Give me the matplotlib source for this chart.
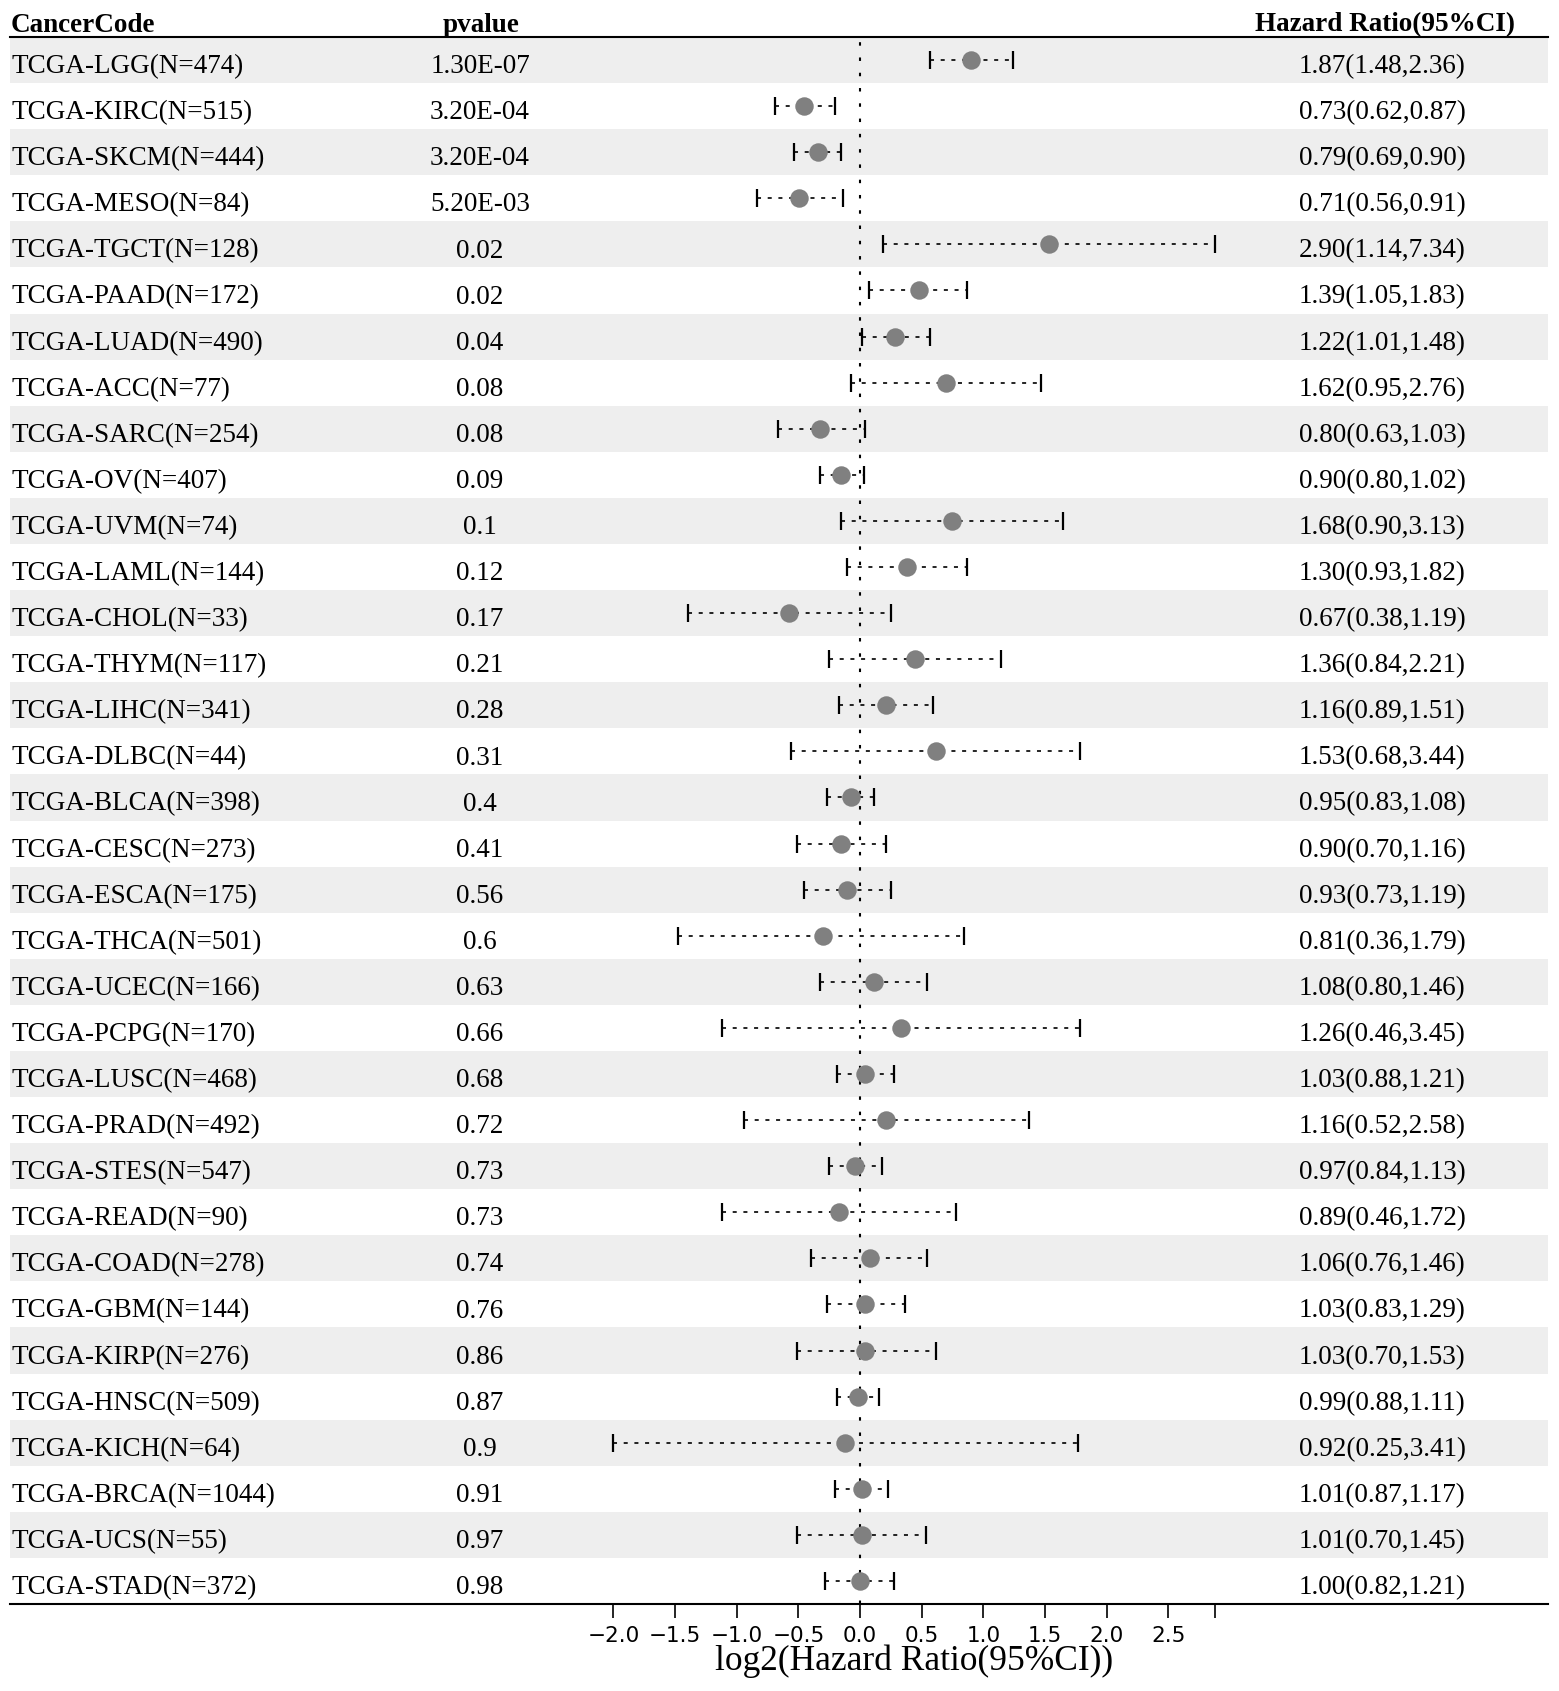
import numpy as np
import matplotlib
matplotlib.use("Agg")
import matplotlib.pyplot as plt

plt.rcParams['font.family'] = ['Liberation Serif', 'DejaVu Serif']
plt.rcParams['lines.scale_dashes'] = False

codes = ["TCGA-LGG", "TCGA-KIRC", "TCGA-SKCM", "TCGA-MESO", "TCGA-TGCT", "TCGA-PAAD",
         "TCGA-LUAD", "TCGA-ACC", "TCGA-SARC", "TCGA-OV", "TCGA-UVM", "TCGA-LAML",
         "TCGA-CHOL", "TCGA-THYM", "TCGA-LIHC", "TCGA-DLBC", "TCGA-BLCA", "TCGA-CESC",
         "TCGA-ESCA", "TCGA-THCA", "TCGA-UCEC", "TCGA-PCPG", "TCGA-LUSC", "TCGA-PRAD",
         "TCGA-STES", "TCGA-READ", "TCGA-COAD", "TCGA-GBM", "TCGA-KIRP", "TCGA-HNSC",
         "TCGA-KICH", "TCGA-BRCA", "TCGA-UCS", "TCGA-STAD"]
n_samples = [474, 515, 444, 84, 128, 172, 490, 77, 254, 407, 74, 144, 33, 117, 341, 44,
             398, 273, 175, 501, 166, 170, 468, 492, 547, 90, 278, 144, 276, 509, 64,
             1044, 55, 372]
pvalues = ["1.30E-07", "3.20E-04", "3.20E-04", "5.20E-03", "0.02", "0.02", "0.04", "0.08",
           "0.08", "0.09", "0.1", "0.12", "0.17", "0.21", "0.28", "0.31", "0.4", "0.41",
           "0.56", "0.6", "0.63", "0.66", "0.68", "0.72", "0.73", "0.73", "0.74", "0.76",
           "0.86", "0.87", "0.9", "0.91", "0.97", "0.98"]
hr = [1.87, 0.73, 0.79, 0.71, 2.90, 1.39, 1.22, 1.62, 0.80, 0.90, 1.68, 1.30, 0.67, 1.36,
      1.16, 1.53, 0.95, 0.90, 0.93, 0.81, 1.08, 1.26, 1.03, 1.16, 0.97, 0.89, 1.06, 1.03,
      1.03, 0.99, 0.92, 1.01, 1.01, 1.00]
hr_low = [1.48, 0.62, 0.69, 0.56, 1.14, 1.05, 1.01, 0.95, 0.63, 0.80, 0.90, 0.93, 0.38, 0.84,
          0.89, 0.68, 0.83, 0.70, 0.73, 0.36, 0.80, 0.46, 0.88, 0.52, 0.84, 0.46, 0.76, 0.83,
          0.70, 0.88, 0.25, 0.87, 0.70, 0.82]
hr_high = [2.36, 0.87, 0.90, 0.91, 7.34, 1.83, 1.48, 2.76, 1.03, 1.02, 3.13, 1.82, 1.19, 2.21,
           1.51, 3.44, 1.08, 1.16, 1.19, 1.79, 1.46, 3.45, 1.21, 2.58, 1.13, 1.72, 1.46, 1.29,
           1.53, 1.11, 3.41, 1.17, 1.45, 1.21]
major_ticks = [-2.0, -1.5, -1.0, -0.5, 0.0, 0.5, 1.0, 1.5, 2.0, 2.5]

x = np.log2(hr)
xlo = np.log2(hr_low)
xhi = np.log2(hr_high)
n = len(codes)
rows = np.arange(n)

W, H = 1559, 1691
fig = plt.figure(figsize=(W / 100, H / 100), dpi=100)
L, R, T, B = 10, 1548, 37, 1604
ax = fig.add_axes([L / W, 1 - B / H, (R - L) / W, (B - T) / H])

x0, scale = 860.0, 123.3
ax.set_xlim((L - x0) / scale, (R - x0) / scale)
ax.set_ylim(n - 0.5, -0.5)

def fx(px):
    return (px - L) / (R - L)

# alternating bands
for i in rows:
    if i % 2 == 0:
        ax.axhspan(i - 0.5, i + 0.5, color='#EEEEEE', lw=0, zorder=0)

# zero reference line
ax.axvline(0, color='black', lw=1.5, linestyle=(0, (2.5, 8.5)), zorder=1)

# CI lines and caps
ax.hlines(rows, xlo, xhi, colors='black', lw=1.2, linestyles=[(0, (2.9, 4.8))], zorder=2)
ax.plot(xlo, rows, linestyle='none', marker='|', markersize=12.7, mew=1.6, color='black', zorder=3)
ax.plot(xhi, rows, linestyle='none', marker='|', markersize=12.7, mew=1.6, color='black', zorder=3)
ax.plot(x, rows, linestyle='none', marker='o', markersize=13.3, color='#808080', mec='none', zorder=4)

# text columns
tr = ax.get_yaxis_transform()
fs = 19.5
off = 0.285
for i in rows:
    ax.text(fx(11), i + off, f"{codes[i]}(N={n_samples[i]})", transform=tr, ha='left',
            va='baseline', fontsize=fs)
    ax.text(fx(480), i + off, pvalues[i], transform=tr, ha='center', va='baseline', fontsize=fs)
    ax.text(fx(1382), i + off, f"{hr[i]:.2f}({hr_low[i]:.2f},{hr_high[i]:.2f})", transform=tr,
            ha='center', va='baseline', fontsize=fs)

hy = -0.5 - (T - 31.5) / ((B - T) / n)
ax.text(fx(11), hy, "CancerCode", transform=tr, ha='left', va='baseline', fontsize=fs, fontweight='bold')
ax.text(fx(481), hy, "pvalue", transform=tr, ha='center', va='baseline', fontsize=fs, fontweight='bold')
ax.text(fx(1385), hy, "Hazard Ratio(95%CI)", transform=tr, ha='center', va='baseline', fontsize=fs,
        fontweight='bold')

# axes styling
for s in ['left', 'right']:
    ax.spines[s].set_visible(False)
for s in ['top', 'bottom']:
    ax.spines[s].set_linewidth(1.5)
ax.set_yticks([])
ax.set_xticks(major_ticks)
ax.set_xticklabels([f"{t:.1f}".replace('-', '\u2212') for t in major_ticks],
                   fontfamily='DejaVu Sans', fontsize=15.5)
ax.set_xticks([xlo.min(), xhi.max()], minor=True)
ax.tick_params(axis='x', which='both', direction='out', length=10, width=1.2, pad=5.5)
ax.set_xlabel("log2(Hazard Ratio(95%CI))", fontsize=25.5)
xc = (xlo.min() + xhi.max()) / 2
ax.xaxis.set_label_coords(fx(x0 + xc * scale), (B - 1645) / (B - T))

fig.savefig("out.png", dpi=100)
